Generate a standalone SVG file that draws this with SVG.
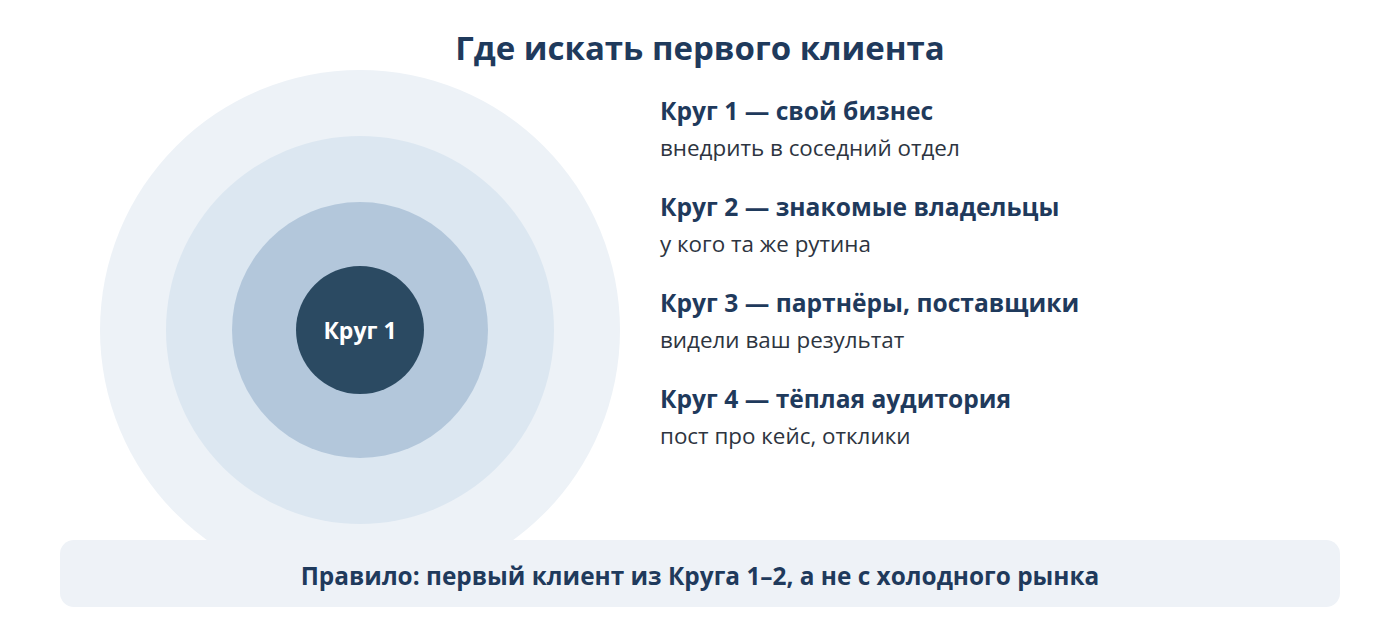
<svg xmlns="http://www.w3.org/2000/svg" width="1400" height="640" viewBox="0 0 1400 640">
<style>
text { font-family: "Open Sans", "Noto Sans", "Liberation Sans", sans-serif; }
.title { font-size: 33px; font-weight: 700; fill: #1f3a5c; }
.head { font-size: 24.6px; font-weight: 700; fill: #1f3a5c; }
.sub { font-size: 22.4px; font-weight: 400; fill: #2d3440; }
.rule { font-size: 24.4px; font-weight: 700; fill: #1f3a5c; }
.core { font-size: 23px; font-weight: 700; fill: #ffffff; }
</style>
<rect width="1400" height="640" fill="#ffffff"/>
<text class="title" x="700" y="60" text-anchor="middle">Где искать первого клиента</text>
<g id="circles">
  <circle id="circle4" cx="360" cy="330" r="260" fill="#edf2f7"/>
  <circle id="circle3" cx="360" cy="330" r="194" fill="#dce7f1"/>
  <circle id="circle2" cx="360" cy="330" r="128" fill="#b3c7db"/>
  <g id="circle1">
    <circle cx="360" cy="330" r="64" fill="#2b4a62"/>
    <text class="core" x="360" y="339" text-anchor="middle">Круг 1</text>
  </g>
</g>
<g id="legend">
  <g id="item1">
    <text class="head" x="660" y="120">Круг 1 — свой бизнес</text>
    <text class="sub" x="660" y="156">внедрить в соседний отдел</text>
  </g>
  <g id="item2">
    <text class="head" x="660" y="216">Круг 2 — знакомые владельцы</text>
    <text class="sub" x="660" y="252">у кого та же рутина</text>
  </g>
  <g id="item3">
    <text class="head" x="660" y="312">Круг 3 — партнёры, поставщики</text>
    <text class="sub" x="660" y="348">видели ваш результат</text>
  </g>
  <g id="item4">
    <text class="head" x="660" y="408">Круг 4 — тёплая аудитория</text>
    <text class="sub" x="660" y="444">пост про кейс, отклики</text>
  </g>
</g>
<g id="connectors"></g>
<g id="rule">
  <rect x="60" y="540" width="1280" height="67" rx="14" fill="#eef2f7"/>
  <text class="rule" x="700" y="585" text-anchor="middle">Правило: первый клиент из Круга 1–2, а не с холодного рынка</text>
</g>
</svg>
